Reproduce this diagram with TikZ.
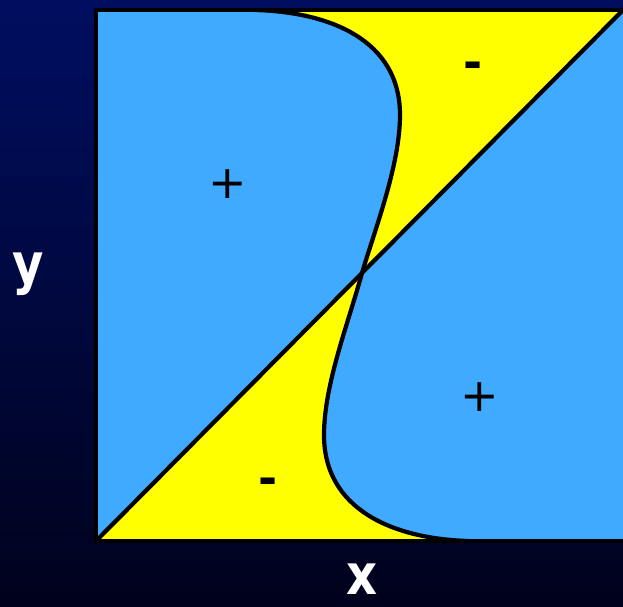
\documentclass[tikz,border=0pt]{standalone}
\usepackage{fontspec}
\newfontfamily\labfont{DejaVu Sans}[FakeStretch=0.86]
\newfontfamily\signfont{DejaVu Sans}
\definecolor{bgtop}{RGB}{0,14,96}
\definecolor{bgbot}{RGB}{0,2,28}
\definecolor{skyblue}{RGB}{63,170,255}
\definecolor{signyellow}{RGB}{255,255,0}
\tikzset{
  edge/.style={draw=black, line width=4.2pt, line join=round},
  axislabel/.style={text=white, font=\labfont\bfseries\fontsize{56}{56}\selectfont, inner sep=0pt},
  signlabel/.style={text=black, font=\signfont\fontsize{46}{46}\selectfont, inner sep=0pt},
  minuslabel/.style={signlabel, font=\signfont\bfseries\fontsize{46}{46}\selectfont}
}
\begin{document}
\begin{tikzpicture}[x=1pt,y=-1pt]
\useasboundingbox (0,0) rectangle (623,606);
\shade[top color=bgtop, bottom color=bgbot] (0,0) rectangle (623,606);
% blue square
\fill[skyblue] (96,10) rectangle (630,541);
% coordinates
\coordinate (bl) at (96,541);
\coordinate (tr) at (630,3);
\coordinate (tl) at (96,10);
\coordinate (ctr) at (362,273);
\coordinate (ctop) at (255,10);
\coordinate (cbot) at (469,541);
% upper yellow region
\fill[signyellow] (ctop) -- (623,10) -- (ctr)
  .. controls (375,229) and (400,165) .. (400,115)
  .. controls (400,40) and (330,12) .. (ctop) -- cycle;
% lower yellow region
\fill[signyellow] (bl) -- (ctr)
  .. controls (348,324) and (324,385) .. (324,435)
  .. controls (324,510) and (394,539) .. (cbot) -- cycle;
% S-curve
\draw[edge] (ctop) .. controls (330,12) and (400,40) .. (400,115)
  .. controls (400,165) and (375,229) .. (ctr)
  .. controls (348,324) and (324,385) .. (324,435)
  .. controls (324,510) and (394,539) .. (cbot);
% diagonal
\draw[edge] (bl) -- (tr);
% square border
\draw[edge] (630,10) -- (tl) -- (bl) -- (630,541);
% labels
\node[axislabel] (ylab) at (28,274) {y};
\node[axislabel] (xlab) at (362,579) {x};
\node[signlabel] (p1) at (228,184) {+};
\node[signlabel] (p2) at (480,397) {+};
\node[minuslabel] (m1) at (473,70) {-};
\node[minuslabel] (m2) at (268,486) {-};
\end{tikzpicture}
\end{document}
